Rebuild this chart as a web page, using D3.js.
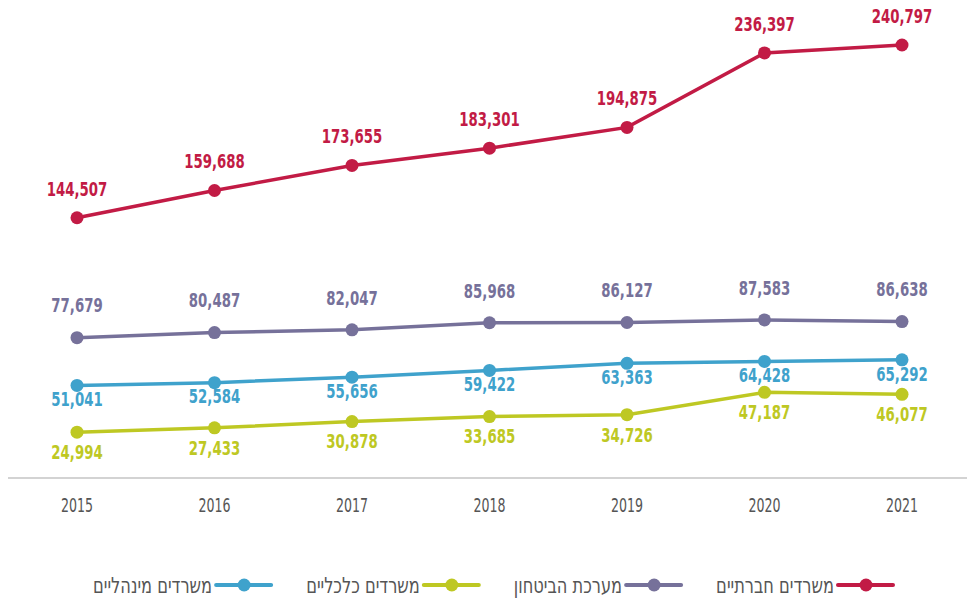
<!doctype html>
<html>
   <head>
      <meta charset="utf-8">
      <title>D3.js</title>
      <style>
         body { margin: 0; background: #fff; }
         svg text { font-family: "DejaVu Sans Condensed", "Liberation Sans", sans-serif; }
      </style>
   </head>
   <body>
      <div id="here"></div>
      <script src="https://d3js.org/d3.v7.min.js"></script>
      <script>
         var w = 967, h = 600;

         var years = ["2015", "2016", "2017", "2018", "2019", "2020", "2021"];
         var social = [144507, 159688, 173655, 183301, 194875, 236397, 240797];
         var defense = [77679, 80487, 82047, 85968, 86127, 87583, 86638];
         var admin = [51041, 52584, 55656, 59422, 63363, 64428, 65292];
         var economic = [24994, 27433, 30878, 33685, 34726, 47187, 46077];

         var names = ["משרדים חברתיים", "מערכת הביטחון", "משרדים כלכליים", "משרדים מינהליים"];
         var colors = ["#c21b45", "#76719a", "#bec823", "#3fa2cc"];

         // series in legend order (right to left), label offset above/below point
         var series = [
           { name: names[0], color: colors[0], values: social, dy: -29 },
           { name: names[1], color: colors[1], values: defense, dy: -32 },
           { name: names[2], color: colors[2], values: economic, dy: 20 },
           { name: names[3], color: colors[3], values: admin, dy: 14 }
         ];

         var x = d3.scalePoint().domain(years).range([77, 902]);
         var y = d3.scaleLinear().domain([0, 250000]).range([477, 28.5]);

         var viz = d3.select("#here")
           .append("svg")
           .attr("width", w)
           .attr("height", h);

         // base line
         viz.append("line")
           .attr("x1", 8).attr("x2", 967)
           .attr("y1", 478).attr("y2", 478)
           .attr("stroke", "#c4c4c4")
           .attr("stroke-width", 1.5);

         // year labels (narrowed to look like the condensed face)
         viz.selectAll("text.year")
           .data(years)
           .enter()
           .append("text")
           .attr("class", "year")
           .attr("transform", function(d) { return "translate(" + x(d) + ",505) scale(0.7,1)"; })
           .attr("text-anchor", "middle")
           .attr("dominant-baseline", "central")
           .attr("fill", "#555")
           .attr("font-size", 20)
           .text(function(d) { return d; });

         var line = d3.line()
           .x(function(d, i) { return x(years[i]); })
           .y(function(d) { return y(d); });

         var g = viz.selectAll("g.serie")
           .data(series)
           .enter()
           .append("g")
           .attr("class", "serie");

         g.append("path")
           .attr("d", function(d) { return line(d.values); })
           .attr("fill", "none")
           .attr("stroke", function(d) { return d.color; })
           .attr("stroke-width", 3.5);

         g.selectAll("circle")
           .data(function(d) { return d.values.map(function(v, i) { return { v: v, i: i, s: d }; }); })
           .enter()
           .append("circle")
           .attr("cx", function(d) { return x(years[d.i]); })
           .attr("cy", function(d) { return y(d.v); })
           .attr("r", 6.5)
           .attr("fill", function(d) { return d.s.color; });

         g.selectAll("text.val")
           .data(function(d) { return d.values.map(function(v, i) { return { v: v, i: i, s: d }; }); })
           .enter()
           .append("text")
           .attr("class", "val")
           .attr("transform", function(d) {
             return "translate(" + x(years[d.i]) + "," + (y(d.v) + d.s.dy) + ") scale(0.74,1)";
           })
           .attr("text-anchor", "middle")
           .attr("dominant-baseline", "central")
           .attr("fill", function(d) { return d.s.color; })
           .attr("font-size", 20)
           .attr("font-weight", "bold")
           .text(function(d) { return d3.format(",")(d.v); });

         // legend, laid out from the right
         var right = 893, ly = 585, sx = 0.82;
         series.forEach(function(s) {
           viz.append("line")
             .attr("x1", right - 55).attr("x2", right)
             .attr("y1", ly).attr("y2", ly)
             .attr("stroke", s.color)
             .attr("stroke-width", 4)
             .attr("stroke-linecap", "round");
           viz.append("circle")
             .attr("cx", right - 27).attr("cy", ly)
             .attr("r", 6.5)
             .attr("fill", s.color);
           var t = viz.append("text")
             .attr("transform", "translate(" + (right - 59) + "," + ly + ") scale(" + sx + ",1)")
             .attr("text-anchor", "end")
             .attr("dominant-baseline", "central")
             .attr("fill", "#555")
             .attr("font-size", 22)
             .text(s.name);
           right = right - 59 - t.node().getComputedTextLength() * sx - 35;
         });
      </script>
   </body>
</html>
